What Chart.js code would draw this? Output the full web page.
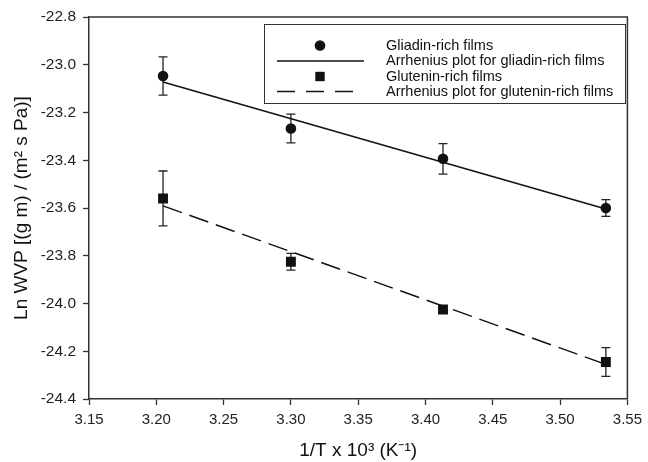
<!DOCTYPE html>
<html>
<head>
<meta charset="utf-8">
<script src="https://cdn.jsdelivr.net/npm/chart.js@4.4.1/dist/chart.umd.min.js"></script>
<style>
  html, body { margin: 0; padding: 0; background: #fff; }
</style>
</head>
<body>
<canvas id="chart" width="648" height="462"></canvas>
<script>
// values
var invT = [3.205, 3.300, 3.413, 3.534];
var gliadin = [-23.047, -23.267, -23.394, -23.600];
var gliadinErr = [0.080, 0.060, 0.064, 0.035];
var glutenin = [-23.560, -23.825, -24.025, -24.245];
var gluteninErr = [0.115, 0.035, 0.010, 0.060];
// Arrhenius fits, at first and last temperature
var fitX = [3.205, 3.534];
var gliadinFit = [-23.072, -23.604];
var gluteninFit = [-23.591, -24.255];
var xTicks = [3.15, 3.20, 3.25, 3.30, 3.35, 3.40, 3.45, 3.50, 3.55];
var yTicks = [-24.4, -24.2, -24.0, -23.8, -23.6, -23.4, -23.2, -23.0, -22.8];
var legendLabels = [
    'Gliadin-rich films',
    'Arrhenius plot for gliadin-rich films',
    'Glutenin-rich films',
    'Arrhenius plot for glutenin-rich films'
];

var FONT = '"Liberation Sans", Arial, sans-serif';
var INK = '#111';

function pts(xs, ys) {
    return xs.map(function (x, i) { return { x: x, y: ys[i] }; });
}

// vertical error bars, drawn under the markers
var errorBars = {
    id: 'errorBars',
    beforeDatasetsDraw: function (chart) {
        var ctx = chart.ctx, xs = chart.scales.x, ys = chart.scales.y;
        ctx.save();
        ctx.strokeStyle = '#222';
        ctx.lineWidth = 1.3;
        [[gliadin, gliadinErr], [glutenin, gluteninErr]].forEach(function (s) {
            invT.forEach(function (t, i) {
                var px = xs.getPixelForValue(t);
                var top = ys.getPixelForValue(s[0][i] + s[1][i]);
                var bot = ys.getPixelForValue(s[0][i] - s[1][i]);
                ctx.beginPath();
                ctx.moveTo(px, top); ctx.lineTo(px, bot);
                ctx.moveTo(px - 4.5, top); ctx.lineTo(px + 4.5, top);
                ctx.moveTo(px - 4.5, bot); ctx.lineTo(px + 4.5, bot);
                ctx.stroke();
            });
        });
        ctx.restore();
    }
};

// top and right frame lines, plus the boxed legend
var frameAndLegend = {
    id: 'frameAndLegend',
    afterDraw: function (chart) {
        var ctx = chart.ctx, a = chart.chartArea;
        ctx.save();
        ctx.strokeStyle = '#333';
        ctx.lineWidth = 1.5;
        ctx.beginPath();
        ctx.moveTo(a.left, a.top); ctx.lineTo(a.right, a.top); ctx.lineTo(a.right, a.bottom);
        ctx.stroke();

        var bx = 264.5, by = 24.5, bw = 361, bh = 79;
        ctx.fillStyle = '#fff';
        ctx.fillRect(bx, by, bw, bh);
        ctx.lineWidth = 1;
        ctx.strokeStyle = '#333';
        ctx.strokeRect(bx, by, bw, bh);

        var rows = [45.5, 61, 76.5, 91.5];
        var mx = 320, l0 = 277, l1 = 364;
        ctx.fillStyle = INK;
        ctx.strokeStyle = INK;
        ctx.lineWidth = 1.5;
        // circle
        ctx.beginPath(); ctx.arc(mx, rows[0], 5.3, 0, Math.PI * 2); ctx.fill();
        // solid line
        ctx.beginPath(); ctx.moveTo(l0, rows[1]); ctx.lineTo(l1, rows[1]); ctx.stroke();
        // square
        ctx.fillRect(mx - 4.7, rows[2] - 4.7, 9.4, 9.4);
        // dashed line
        ctx.setLineDash([18, 11]);
        ctx.beginPath(); ctx.moveTo(l0, rows[3]); ctx.lineTo(l1, rows[3]); ctx.stroke();
        ctx.setLineDash([]);

        ctx.font = '14.5px ' + FONT;
        ctx.textBaseline = 'middle';
        ctx.textAlign = 'left';
        legendLabels.forEach(function (t, i) { ctx.fillText(t, 386, rows[i]); });
        ctx.restore();
    }
};

var ctx = document.getElementById('chart').getContext('2d');
new Chart(ctx, {
    type: 'scatter',
    data: {
        datasets: [{
            label: legendLabels[0],
            data: pts(invT, gliadin),
            pointStyle: 'circle',
            pointRadius: 5.3,
            pointHoverRadius: 5.3,
            backgroundColor: INK,
            borderWidth: 0
        }, {
            label: legendLabels[1],
            data: pts(fitX, gliadinFit),
            showLine: true,
            pointRadius: 0,
            borderColor: INK,
            borderWidth: 1.5
        }, {
            label: legendLabels[2],
            data: pts(invT, glutenin),
            pointStyle: 'rect',
            pointRadius: 7,
            pointHoverRadius: 7,
            backgroundColor: INK,
            borderWidth: 0
        }, {
            label: legendLabels[3],
            data: pts(fitX, gluteninFit),
            showLine: true,
            pointRadius: 0,
            borderColor: INK,
            borderWidth: 1.5,
            borderDash: [20, 8]
        }]
    },
    options: {
        responsive: false,
        animation: false,
        devicePixelRatio: 1,
        layout: { padding: { top: 17, right: 16, left: 0, bottom: 0 } },
        plugins: { legend: { display: false }, tooltip: { enabled: false } },
        scales: {
            x: {
                type: 'linear',
                min: 3.15,
                max: 3.55,
                afterBuildTicks: function (s) { s.ticks = xTicks.map(function (v) { return { value: v }; }); },
                afterFit: function (s) { s.height = 63; },
                ticks: {
                    callback: function (v) { return v.toFixed(2); },
                    font: { family: FONT, size: 15 },
                    color: '#222',
                    padding: 6,
                    maxRotation: 0
                },
                grid: { drawOnChartArea: false, drawTicks: true, tickLength: 6, tickColor: '#333', tickWidth: 1.3 },
                border: { color: '#333', width: 1.5 },
                title: {
                    display: true,
                    text: '1/T x 10³ (K⁻¹)',
                    font: { family: FONT, size: 19 },
                    color: '#111',
                    padding: { top: 0, bottom: 0 }
                }
            },
            y: {
                type: 'linear',
                min: -24.4,
                max: -22.8,
                afterBuildTicks: function (s) { s.ticks = yTicks.map(function (v) { return { value: v }; }); },
                afterFit: function (s) { s.width = 89; },
                ticks: {
                    callback: function (v) { return v.toFixed(1); },
                    font: { family: FONT, size: 15.5 },
                    color: '#222',
                    padding: 7
                },
                grid: { drawOnChartArea: false, drawTicks: true, tickLength: 6, tickColor: '#333', tickWidth: 1.3 },
                border: { color: '#333', width: 1.5 },
                title: {
                    display: true,
                    text: 'Ln WVP [(g m) / (m² s Pa)]',
                    font: { family: FONT, size: 19 },
                    color: '#111',
                    padding: { top: 10, bottom: 0 }
                }
            }
        }
    },
    plugins: [errorBars, frameAndLegend]
});
</script>
</body>
</html>
